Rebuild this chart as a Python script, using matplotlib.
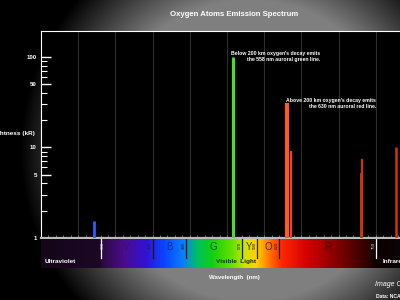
import numpy as np
import matplotlib
matplotlib.use('Agg')
import matplotlib.pyplot as plt
from matplotlib.colors import LinearSegmentedColormap

# emission lines of atomic oxygen (nm, kR)
line_wavelengths=[371.0,557.7,630.0,636.4,729.5,732.0,777.4]
line_brightness=[1.55,100,31,9.2,5.2,7.4,10.2]
line_colors=['#2f5cff','#4cdc2a','#ff5a22','#e8481c','#cc3214','#cc3214','#d0361a']
line_widths=[2.0,2.2,3.0,1.6,1.4,1.6,1.8]

band_edges=[380,450,495,570,590,620,750]
band_letters=['V','B','G','Y','O','R']
band_letter_pos=[415,472,531,580,605,685]

FONT=['Liberation Sans','DejaVu Sans']
PX=1/400.

def background(fig):
    bg=fig.add_axes([0,0,1,1],zorder=-5)
    yy,xx=np.mgrid[0:300,0:400]
    d=np.sqrt((xx-250)**2+(yy-150)**2)
    v=np.clip(0.5*(1-(d-150)/80),0,0.5)
    bg.imshow(np.dstack([v,v,v]),aspect='auto',extent=[0,1,0,1],origin='upper')
    bg.axis('off')

def spectrum_bar(fig):
    sp=fig.add_axes([41*PX,32/300.,372*PX,29/300.])
    stops=[(300,'#140518'),(378,'#1c0826'),(382,'#2a0a42'),(410,'#4a0c8c'),(440,'#3212d4'),
           (465,'#0a44ff'),(490,'#0a7cff'),(510,'#00c060'),(530,'#10d010'),(555,'#60e000'),
           (575,'#d0e400'),(590,'#ffd000'),(605,'#ff8000'),(625,'#ff2400'),(660,'#d00000'),
           (700,'#800000'),(740,'#300000'),(752,'#0e0000'),(800,'#080808')]
    cmap=LinearSegmentedColormap.from_list('spec',[((w-300)/500.,c) for w,c in stops])
    grad=np.linspace(0,1,500).reshape(1,-1)
    sp.imshow(grad,cmap=cmap,aspect='auto',extent=[300,800,0,1])
    sp.set_xlim(300,800)
    sp.set_ylim(0,1)
    sp.axis('off')
    for w in band_edges:
        c='white' if w in (380,750) else '#181818'
        sp.axvline(w,0.35,1,color=c,lw=0.9)
        sp.text(w+(3 if w==380 else -3),0.78,str(w),rotation=90,ha='center',va='center',
                fontsize=3.2,color='#dddddd' if w in (380,750) else '#202020',family=FONT)
    letter_cols=['#3a1266','#10308a','#145a10','#3c3c00','#5a2608','#4a0000']
    for l,x,c in zip(band_letters,band_letter_pos,letter_cols):
        sp.text(x,0.72,l,ha='center',va='center',fontsize=7,color=c,family=FONT)
    sp.text(305,0.22,'Ultraviolet',ha='left',va='center',fontsize=4.6,color='white',fontweight='bold',family=FONT)
    sp.text(562,0.22,'Visible  Light',ha='center',va='center',fontsize=4.6,color='#1a2a00',fontweight='bold',family=FONT)
    sp.text(759,0.22,'Infrared',ha='left',va='center',fontsize=4.6,color='white',fontweight='bold',family=FONT)

def main_axes(fig):
    ax=fig.add_axes([41*PX,62.3/300.,372*PX,207/300.])
    ax.set_facecolor('black')
    ax.set_yscale('log')
    ax.set_xlim(300,800)
    ax.set_ylim(1,197)
    ax.vlines(line_wavelengths,1,line_brightness,colors=line_colors,linewidths=line_widths,zorder=3)
    for x in range(350,800,50):
        ax.axvline(x,color='#2e2e2e',lw=0.8,zorder=1)
    for s in ['left','top']:
        ax.spines[s].set_color('white')
    ax.spines['bottom'].set_color('#bbbbbb')
    ax.spines['bottom'].set_linewidth(1.6)
    ax.spines['right'].set_visible(False)
    ax.set_yticks([1,5,10,50,100])
    ax.set_yticklabels(['1','5','10','50','100'],family=FONT,fontweight='bold')
    ax.tick_params(axis='y',which='major',direction='in',length=7,width=1,color='white',
                   labelcolor='white',labelsize=4.4,pad=3)
    ax.tick_params(axis='y',which='minor',direction='in',length=4,width=0.8,color='white',labelleft=False)
    ax.set_xticks(range(300,801,50))
    ax.set_xticks(range(300,801,10),minor=True)
    ax.tick_params(axis='x',which='both',direction='in',length=2.5,width=0.6,color='#888888',labelbottom=False)
    ax.text(676,103,"Below 200 km oxygen's decay emits\nthe 558 nm auroral green line.",ha='right',va='center',
            fontsize=3.7,color='white',fontweight='bold',family=FONT,linespacing=1.3)
    ax.text(750,31,"Above 200 km oxygen's decay emits\nthe 630 nm auroral red line.",ha='right',va='center',
            fontsize=3.7,color='white',fontweight='bold',family=FONT,linespacing=1.3)
    return ax

fig=plt.figure(figsize=(4,3),dpi=100)
background(fig)
main_axes(fig)
spectrum_bar(fig)
fig.text(234*PX,1-15/300.,'Oxygen Atoms Emission Spectrum',ha='center',va='center',fontsize=5.6,
         color='white',fontweight='bold',family=FONT)
fig.text(35*PX,1-133/300.,'Brightness (kR)',ha='right',va='center',fontsize=4.6,color='white',
         fontweight='bold',family=FONT)
fig.text(234*PX,1-278/300.,'Wavelength  (nm)',ha='center',va='center',fontsize=4.4,color='white',
         fontweight='bold',family=FONT)
fig.text(375*PX,1-285/300.,'Image Credit',ha='left',va='center',fontsize=5,color='white',
         style='italic',family=FONT)
fig.text(376*PX,1-296/300.,'Data: NCAR',ha='left',va='center',fontsize=3.6,color='white',
         fontweight='bold',family=FONT)
fig.savefig('out.png',dpi=100)
